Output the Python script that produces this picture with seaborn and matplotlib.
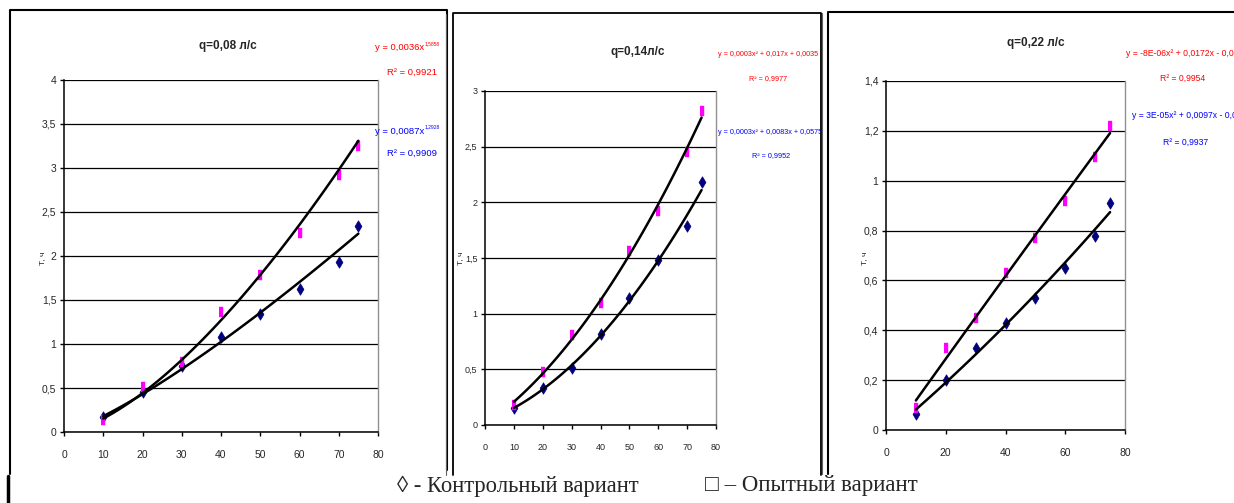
import numpy as np
import pandas as pd
import seaborn as sns
import matplotlib.pyplot as plt
from matplotlib.lines import Line2D
from matplotlib.ticker import FuncFormatter, MultipleLocator

W, H = 1234, 503

# data
x_vals = [10, 20, 30, 40, 50, 60, 70, 75]

ctrl_008 = [0.17, 0.45, 0.75, 1.08, 1.34, 1.63, 1.93, 2.34]
exp_008 = [0.14, 0.51, 0.79, 1.36, 1.78, 2.26, 2.92, 3.25]
ctrl_014 = [0.15, 0.33, 0.51, 0.82, 1.14, 1.48, 1.79, 2.18]
exp_014 = [0.18, 0.48, 0.81, 1.10, 1.56, 1.92, 2.45, 2.82]
ctrl_022 = [0.063, 0.20, 0.33, 0.43, 0.53, 0.65, 0.78, 0.91]
exp_022 = [0.087, 0.33, 0.45, 0.63, 0.77, 0.92, 1.095, 1.22]

titles = ['q=0,08 л/с', 'q=0,14л/с', 'q=0,22 л/с']
fit_kind = ['power', 'poly', 'poly']
y_max = [4, 3, 1.4]
y_step = [0.5, 0.5, 0.2]
x_step = [10, 10, 20]

eq_red = [('y = 0,0036x', '1,5858'), ('y = 0,0003x² + 0,017x + 0,0035', ''),
          ('y = -8E-06x² + 0,0172x - 0,0588', '')]
r2_red = ['R² = 0,9921', 'R² = 0,9977', 'R² = 0,9954']
eq_blue = [('y = 0,0087x', '1,2928'), ('y = 0,0003x² + 0,0083x + 0,0575', ''),
           ('y = 3E-05x² + 0,0097x - 0,0124', '')]
r2_blue = ['R² = 0,9909', 'R² = 0,9952', 'R² = 0,9937']

legend_ctrl = '◊ - Контрольный вариант'
legend_exp = '□ – Опытный вариант'

sns.set_style('white')
sans = ['Liberation Sans Narrow', 'Liberation Sans', 'DejaVu Sans']
serif = ['Liberation Serif', 'DejaVu Serif']
plt.rcParams['font.family'] = sans

fig = plt.figure(figsize=(W / 100, H / 100), dpi=100)

# axes boxes in pixels: left, top, right, bottom
boxes = [(64, 80, 378, 432), (485, 91, 716, 425), (886, 81, 1125, 430)]
rect_marker = [(-0.55, -1), (0.55, -1), (0.55, 1), (-0.55, 1)]


def fx(x):
    return x / W


def fy(y):
    return 1 - y / H


def fit_curve(x, y, kind):
    xs = np.linspace(min(x), max(x), 120)
    if kind == 'power':
        b, a = np.polyfit(np.log(x), np.log(y), 1)
        return xs, np.exp(a) * xs ** b
    c = np.polyfit(x, y, 2)
    return xs, np.polyval(c, xs)


series = [(ctrl_008, exp_008), (ctrl_014, exp_014), (ctrl_022, exp_022)]
tick_size = [7.5, 6.5, 7.5]

for i, (l, t, r, b) in enumerate(boxes):
    ax = fig.add_axes([fx(l), fy(b), (r - l) / W, (b - t) / H])
    ctrl, exp = series[i]
    df = pd.DataFrame({'x': x_vals, 'ctrl': ctrl, 'exp': exp})

    sns.scatterplot(data=df, x='x', y='ctrl', marker='d', s=34, color='#000080',
                    edgecolor='#000080', linewidth=0.5, ax=ax, zorder=3)
    sns.scatterplot(data=df, x='x', y='exp', marker=rect_marker, s=42, color='#FF00FF',
                    edgecolor='#FF00FF', linewidth=0.3, ax=ax, zorder=3)
    for yy in (ctrl, exp):
        xs, ys = fit_curve(np.array(x_vals, float), np.array(yy, float), fit_kind[i])
        ax.plot(xs, ys, color='black', lw=1.8, zorder=4)

    ax.set_xlim(0, 80)
    ax.set_ylim(0, y_max[i])
    ax.xaxis.set_major_locator(MultipleLocator(x_step[i]))
    ax.yaxis.set_major_locator(MultipleLocator(y_step[i]))
    fmt = FuncFormatter(lambda v, p: ('%g' % round(v, 2)).replace('.', ','))
    ax.yaxis.set_major_formatter(fmt)
    ax.xaxis.set_major_formatter(fmt)
    ax.grid(axis='y', color='black', lw=0.9)
    ax.set_axisbelow(True)
    ax.set_xlabel('')
    ax.set_ylabel('')
    for side in ('left', 'bottom'):
        ax.spines[side].set_color('black')
        ax.spines[side].set_linewidth(1.1)
    ax.spines['right'].set_color('#909090')
    ax.spines['right'].set_linewidth(1)
    ax.spines['top'].set_visible(False)
    ax.tick_params(axis='x', direction='out', length=3, width=1, color='black',
                   labelsize=tick_size[i], pad=10, bottom=True)
    ax.tick_params(axis='y', direction='out', length=3, width=1, color='black',
                   labelsize=tick_size[i], pad=2.5, left=True)

# titles
for (x, y), s in zip([(228, 46), (638, 52), (1036, 43)], titles):
    fig.text(fx(x), fy(y), s, ha='center', va='center', fontsize=8.5, fontweight='bold')

# axis labels
for x, y in [(43, 258), (461, 258), (865, 258)]:
    fig.text(fx(x), fy(y), 'Т, ч', rotation=90, ha='center', va='center', fontsize=6)

# trendline equations
eq_pos_red = [(424, 48, 'right'), (768, 55, 'center'), (1126, 53, 'left')]
r2_pos_red = [(412, 72), (768, 79), (1183, 78)]
eq_pos_blue = [(424, 131, 'right'), (770, 132, 'center'), (1132, 115, 'left')]
r2_pos_blue = [(412, 153), (771, 156), (1186, 142)]
eq_size = [6.8, 5.2, 6.2]

for i in range(3):
    for eq, r2, pe, pr, col in [(eq_red[i], r2_red[i], eq_pos_red[i], r2_pos_red[i], '#FF0000'),
                                (eq_blue[i], r2_blue[i], eq_pos_blue[i], r2_pos_blue[i], '#0000FF')]:
        main, sup = eq
        fig.text(fx(pe[0]), fy(pe[1]), main, ha=pe[2], va='center', color=col,
                 fontsize=eq_size[i])
        if sup:
            fig.text(fx(pe[0] + 1), fy(pe[1] - 4), sup, ha='left', va='center', color=col,
                     fontsize=3.6)
        fig.text(fx(pr[0]), fy(pr[1]), r2, ha='center', va='center', color=col,
                 fontsize=eq_size[i])


def fig_line(xs, ys, **kw):
    fig.add_artist(Line2D([fx(v) for v in xs], [fy(v) for v in ys], **kw))


# panel frames
fig_line([10, 10, 447, 447], [474, 10, 10, 470], color='black', lw=1.5)
fig_line([446, 446], [14, 475], color='#606060', lw=0.8)
fig_line([453, 453, 821, 821], [475, 13, 13, 475], color='black', lw=1.3)
fig_line([822, 822], [13, 474], color='#606060', lw=0.8)
fig_line([828, 828, 1234], [474, 12, 12], color='black', lw=1.5)
fig_line([8, 8], [476, 503], color='black', lw=2.5)

# legend line
fig.text(fx(397), fy(486), legend_ctrl, ha='left', va='center', fontsize=16.3,
         family=serif)
fig.text(fx(705), fy(486), legend_exp, ha='left', va='center', fontsize=16.5,
         family=serif)

fig.savefig('out.png', dpi=100)
